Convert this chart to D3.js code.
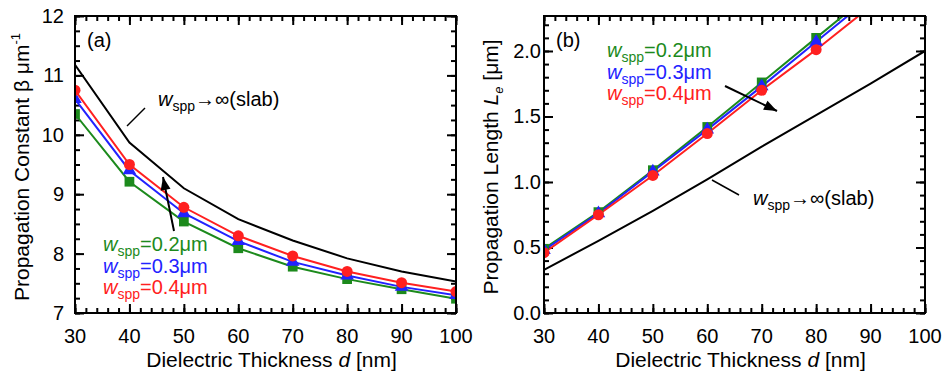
<!DOCTYPE html>
<html>
<head>
<meta charset="utf-8">
<script src="https://cdn.jsdelivr.net/npm/d3@7"></script>
<style>
  body { margin: 0; background: #fff; }
  svg { display: block; font-family: "Liberation Sans", Arial, sans-serif; }
</style>
</head>
<body>
<div id="chart"></div>
<script>
// dielectric thickness d [nm]
const thickness = [30, 40, 50, 60, 70, 80, 90, 100];
const xTicks = [30, 40, 50, 60, 70, 80, 90, 100];

// (a) propagation constant beta [um^-1]
const betaSlab = [11.18, 9.87, 9.10, 8.58, 8.22, 7.92, 7.70, 7.53];
const betaW02 = [10.35, 9.21, 8.54, 8.09, 7.78, 7.57, 7.40, 7.24];
const betaW03 = [10.60, 9.40, 8.68, 8.21, 7.86, 7.63, 7.44, 7.30];
const betaW04 = [10.75, 9.50, 8.78, 8.30, 7.96, 7.70, 7.51, 7.36];
const betaTicks = [7, 8, 9, 10, 11, 12];

// (b) propagation length Le [um]
const lenSlab = [0.33, 0.55, 0.78, 1.02, 1.27, 1.51, 1.75, 2.00];
const lenW02 = [0.49, 0.77, 1.09, 1.42, 1.76, 2.10, 2.44, 2.79];
const lenW03 = [0.48, 0.76, 1.08, 1.40, 1.73, 2.07, 2.41, 2.75];
const lenW04 = [0.46, 0.75, 1.05, 1.37, 1.70, 2.01, 2.34, 2.67];
const lenTicks = [0.0, 0.5, 1.0, 1.5, 2.0];

const widths = ["0.2", "0.3", "0.4"];
const colors = ["#1c8a1c", "#2222ff", "#ff2020"];
const shapes = [d3.symbolSquare, d3.symbolTriangle, d3.symbolCircle];

const W = 943, H = 372;
const svg = d3.select("#chart").append("svg").attr("width", W).attr("height", H);

function wLabel(g, x, y, txt, color) {
  const t = g.append("text").attr("x", x).attr("y", y).attr("fill", color).style("font-size", "20px");
  t.append("tspan").attr("font-style", "italic").text("w");
  t.append("tspan").attr("dy", 5).style("font-size", "14px").text("spp");
  t.append("tspan").attr("dy", -5).text(txt);
  return t;
}

function arrow(g, x1, y1, x2, y2) {
  g.append("line").attr("x1", x1).attr("y1", y1).attr("x2", x2).attr("y2", y2)
    .attr("stroke", "#000").attr("stroke-width", 2);
  const a = Math.atan2(y2 - y1, x2 - x1), L = 13, w = 5;
  const p = [[x2, y2],
    [x2 - L * Math.cos(a) + w * Math.sin(a), y2 - L * Math.sin(a) - w * Math.cos(a)],
    [x2 - L * Math.cos(a) - w * Math.sin(a), y2 - L * Math.sin(a) + w * Math.cos(a)]];
  g.append("polygon").attr("points", p.map(d => d.join(",")).join(" ")).attr("fill", "#000");
}

function drawPanel(cfg) {
  const g = svg.append("g");
  // white background so it covers the neighbour's overflow
  g.append("rect").attr("x", cfg.bg[0]).attr("y", 0).attr("width", cfg.bg[1] - cfg.bg[0]).attr("height", H).attr("fill", "#fff");

  const x = d3.scaleLinear().domain([30, 100]).range([cfg.left, cfg.right]);
  const y = d3.scaleLinear().domain(cfg.yDomain).range([313, 16]);

  const clipId = "clip" + cfg.name;
  g.append("clipPath").attr("id", clipId).append("rect")
    .attr("x", cfg.left).attr("y", 16).attr("width", cfg.right - cfg.left).attr("height", 297);

  // axes with inward ticks on all four sides
  const xMinor = d3.range(30, 100.01, 2);
  const yMinor = d3.range(cfg.yDomain[0], cfg.yDomain[1] + 1e-6, cfg.yMinor);
  [[313, 1], [16, -1]].forEach(([yy, s]) => {
    g.append("g").attr("transform", `translate(0,${yy})`)
      .call(d3.axisBottom(x).tickValues(xMinor).tickSize(-5 * s).tickFormat("")).call(a => a.select(".domain").remove());
    g.append("g").attr("transform", `translate(0,${yy})`)
      .call(d3.axisBottom(x).tickValues(xTicks).tickSize(-9 * s).tickFormat("")).call(a => a.select(".domain").remove());
  });
  [[cfg.left, 1], [cfg.right, -1]].forEach(([xx, s]) => {
    g.append("g").attr("transform", `translate(${xx},0)`)
      .call(d3.axisLeft(y).tickValues(yMinor).tickSize(-5 * s).tickFormat("")).call(a => a.select(".domain").remove());
    g.append("g").attr("transform", `translate(${xx},0)`)
      .call(d3.axisLeft(y).tickValues(cfg.yTicks).tickSize(-9 * s).tickFormat("")).call(a => a.select(".domain").remove());
  });
  g.selectAll(".tick line").attr("stroke", "#000").attr("stroke-width", 2);

  // tick labels
  g.append("g").selectAll("text").data(xTicks).join("text")
    .attr("x", d => x(d)).attr("y", 343).attr("text-anchor", "middle")
    .style("font-size", "20px").text(d => d);
  g.append("g").selectAll("text").data(cfg.yTicks).join("text")
    .attr("x", cfg.left - cfg.labelGap).attr("y", d => y(d) + 7).attr("text-anchor", "end")
    .style("font-size", "20px").text(cfg.fmt);

  // x title
  const xt = g.append("text").attr("x", (cfg.left + cfg.right) / 2 + 6).attr("y", 367)
    .attr("text-anchor", "middle").style("font-size", "21px");
  xt.append("tspan").text("Dielectric Thickness ");
  xt.append("tspan").attr("font-style", "italic").text("d");
  xt.append("tspan").text(" [nm]");

  // y title
  const yt = g.append("text").attr("transform", `translate(${cfg.left - 46},167) rotate(-90)`)
    .attr("text-anchor", "middle").style("font-size", "21px");
  cfg.yTitle(yt);

  // data
  const line = d3.line().x((d, i) => x(thickness[i])).y(d => y(d));
  const plot = g.append("g").attr("clip-path", `url(#${clipId})`);
  plot.append("path").datum(cfg.slab).attr("d", line).attr("fill", "none")
    .attr("stroke", "#000").attr("stroke-width", 2);
  cfg.series.forEach((s, k) => {
    plot.append("path").datum(s).attr("d", line).attr("fill", "none")
      .attr("stroke", colors[k]).attr("stroke-width", 2);
  });
  cfg.series.forEach((s, k) => {
    plot.append("g").selectAll("path").data(s).join("path")
      .attr("transform", (d, i) => `translate(${x(thickness[i])},${y(d)})`)
      .attr("d", d3.symbol(shapes[k], k === 1 ? 80 : 95))
      .attr("fill", colors[k]);
  });

  // frame
  g.append("rect").attr("x", cfg.left).attr("y", 16).attr("width", cfg.right - cfg.left).attr("height", 297)
    .attr("fill", "none").attr("stroke", "#000").attr("stroke-width", 2);

  g.append("text").attr("x", cfg.left + 12).attr("y", 47).style("font-size", "20px").text(cfg.tag);

  widths.forEach((w, k) => wLabel(g, cfg.legend[0], cfg.legend[1] + k * 21.5, "=" + w + "\u03bcm", colors[k]));
  wLabel(g, cfg.slabLabel[0], cfg.slabLabel[1], "\u2192\u221e(slab)", "#000");
  g.append("line").attr("x1", cfg.leader[0]).attr("y1", cfg.leader[1]).attr("x2", cfg.leader[2]).attr("y2", cfg.leader[3])
    .attr("stroke", "#000").attr("stroke-width", 1.5);
  arrow(g, ...cfg.arrow);
  return g;
}

drawPanel({
  name: "a", left: 75, right: 456, bg: [0, 470], yDomain: [7, 12], yMinor: 0.25, yTicks: betaTicks,
  fmt: d => d, labelGap: 11, slab: betaSlab, series: [betaW02, betaW03, betaW04], tag: "(a)",
  yTitle: t => {
    t.append("tspan").text("Propagation Constant \u03b2 \u03bcm");
    t.append("tspan").attr("dy", -9).style("font-size", "13px").text("-1");
  },
  legend: [103, 251], slabLabel: [158, 106], leader: [127, 126, 145, 108], arrow: [174, 231, 163, 177]
});

drawPanel({
  name: "b", left: 544, right: 925, bg: [473, 943], yDomain: [0, 2.267], yMinor: 0.1, yTicks: lenTicks,
  fmt: d3.format(".1f"), labelGap: 3, slab: lenSlab, series: [lenW02, lenW03, lenW04], tag: "(b)",
  yTitle: t => {
    t.append("tspan").text("Propagation Length ");
    t.append("tspan").attr("font-style", "italic").text("L");
    t.append("tspan").attr("dy", 5).attr("font-style", "italic").style("font-size", "13px").text("e");
    t.append("tspan").attr("dy", -5).text(" [\u03bcm]");
  },
  legend: [607, 57], slabLabel: [753, 205], leader: [712, 180, 739, 195], arrow: [725, 86, 777, 111]
});
</script>
</body>
</html>
